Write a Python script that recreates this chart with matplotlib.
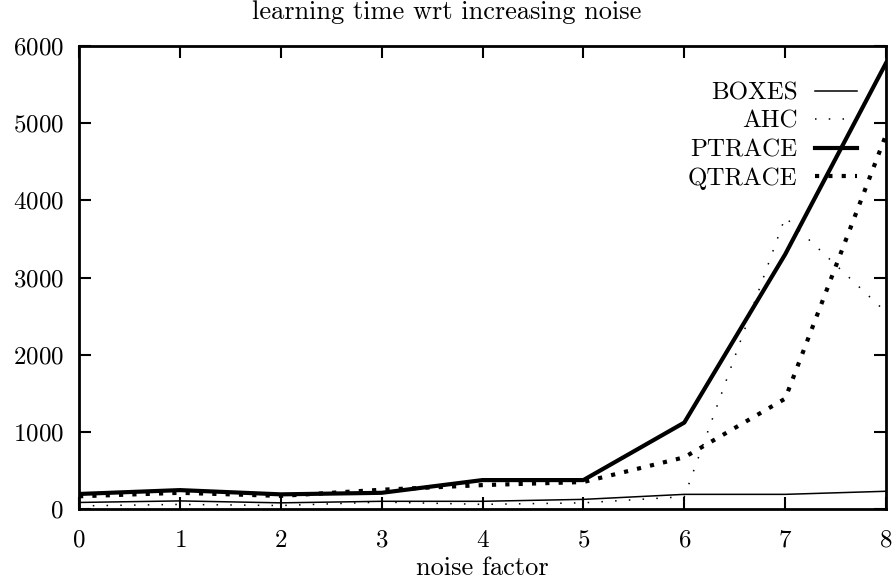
import numpy as np
import matplotlib
matplotlib.use("Agg")
import matplotlib.pyplot as plt

plt.rcParams["font.family"] = ["cmr10", "DejaVu Serif"]
plt.rcParams["axes.formatter.use_mathtext"] = True

noise = [0, 1, 2, 3, 4, 5, 6, 7, 8]
boxes = [85, 105, 80, 100, 100, 125, 190, 190, 230]
ahc = [40, 60, 45, 90, 60, 80, 160, 3780, 2550]
ptrace = [195, 245, 190, 210, 375, 375, 1120, 3300, 5780]
qtrace = [165, 210, 170, 250, 310, 350, 670, 1430, 4850]

xticks = [0, 1, 2, 3, 4, 5, 6, 7, 8]
yticks = [0, 1000, 2000, 3000, 4000, 5000, 6000]


def main():
    fig = plt.figure(figsize=(8.94, 5.83), dpi=100)
    ax = fig.add_axes([0.0884, 0.1269, 0.9027, 0.7942])

    ax.plot(noise, boxes, color="black", lw=1.1, label="BOXES")
    ax.plot(noise, ahc, color="black", lw=1.1, linestyle=(0, (1, 8)), label="AHC")
    ax.plot(noise, ptrace, color="black", lw=3.0, label="PTRACE")
    ax.plot(noise, qtrace, color="black", lw=3.0, linestyle=(0, (1, 2.2)), label="QTRACE")

    ax.set_xlim(0, 8)
    ax.set_ylim(0, 6000)
    ax.set_xticks(xticks)
    ax.set_yticks(yticks)
    ax.tick_params(direction="in", top=True, right=True, length=8.5, width=1.5,
                   labelsize=18)
    ax.tick_params(axis="x", pad=15)
    ax.tick_params(axis="y", pad=11)
    for s in ax.spines.values():
        s.set_linewidth(2.0)

    ax.set_xlabel("noise factor", fontsize=19, labelpad=3)
    fig.text(0.5, 1 - 12 / 583, "learning time wrt increasing noise",
             ha="center", va="center", fontsize=19)

    ax.legend(loc="upper right", frameon=False, markerfirst=False, fontsize=18,
              handlelength=1.68, handletextpad=0.68, labelspacing=0.24,
              borderaxespad=0.0, bbox_to_anchor=(0.976, 0.944))

    fig.savefig("out.png", dpi=100)


if __name__ == "__main__":
    main()
